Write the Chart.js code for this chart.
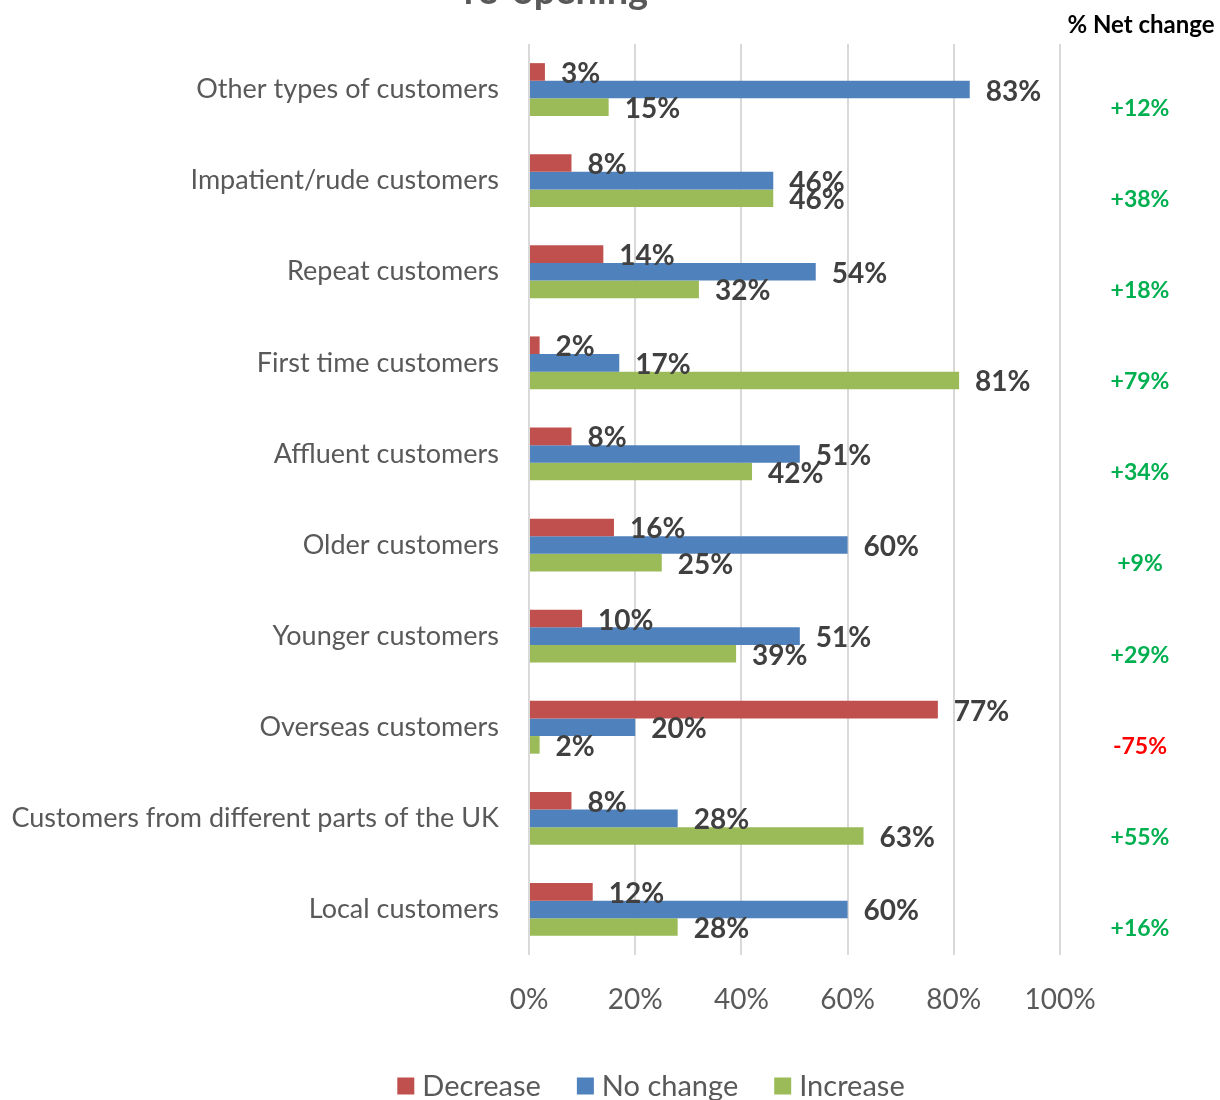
<!DOCTYPE html>
<html>
<head>
<meta charset="utf-8">
<script src="https://cdn.jsdelivr.net/npm/chart.js@4"></script>
<style>
  html, body { margin: 0; padding: 0; background: #fff; }
  #wrap { width: 1220px; height: 1100px; }
</style>
</head>
<body>
<div id="wrap"><canvas id="chart" width="1220" height="1100"></canvas></div>
<script>
const categories = [
  'Other types of customers',
  'Impatient/rude customers',
  'Repeat customers',
  'First time customers',
  'Affluent customers',
  'Older customers',
  'Younger customers',
  'Overseas customers',
  'Customers from different parts of the UK',
  'Local customers'
];
const decrease = [3, 8, 14, 2, 8, 16, 10, 77, 8, 12];
const noChange = [83, 46, 54, 17, 51, 60, 51, 20, 28, 60];
const increase = [15, 46, 32, 81, 42, 25, 39, 2, 63, 28];
const netChange = [12, 38, 18, 79, 34, 9, 29, -75, 55, 16];
const xTicks = [0, 20, 40, 60, 80, 100];

const FONT = 'Lato, "Open Sans", sans-serif';

// value labels at the end of each bar
const barLabels = {
  id: 'barLabels',
  afterDatasetsDraw(chart) {
    const ctx = chart.ctx;
    ctx.save();
    ctx.font = 'bold 28px ' + FONT;
    ctx.fillStyle = '#404040';
    ctx.textAlign = 'left';
    ctx.textBaseline = 'middle';
    chart.data.datasets.forEach((ds, i) => {
      chart.getDatasetMeta(i).data.forEach((el, j) => {
        ctx.fillText(ds.data[j] + '%', el.x + 16, el.y + 2);
      });
    });
    ctx.restore();
  }
};

// net change column, cut-off title and the legend
const extras = {
  id: 'extras',
  afterDraw(chart) {
    const ctx = chart.ctx;
    const yScale = chart.scales.y;
    ctx.save();
    ctx.textAlign = 'center';
    ctx.textBaseline = 'alphabetic';
    ctx.font = 'bold 38px ' + FONT;
    ctx.fillStyle = '#595959';
    ctx.fillText('re-opening', 556, 4);

    ctx.font = 'bold 24px ' + FONT;
    ctx.fillStyle = '#000000';
    ctx.textBaseline = 'middle';
    ctx.fillText('% Net change', 1141, 25);

    ctx.font = 'bold 23px ' + FONT;
    netChange.forEach((v, i) => {
      const y = yScale.getPixelForValue(i) + 19;
      ctx.fillStyle = v < 0 ? '#ff0000' : '#00b050';
      ctx.fillText((v > 0 ? '+' : '') + v + '%', 1140, y);
    });

    // legend
    ctx.font = '29px ' + FONT;
    ctx.textAlign = 'left';
    const box = 17, gap = 8, between = 36;
    const items = chart.data.datasets.map(ds => ({
      label: ds.label, color: ds.backgroundColor,
      w: box + gap + ctx.measureText(ds.label).width
    }));
    const total = items.reduce((s, it) => s + it.w, 0) + between * (items.length - 1);
    let x = 651 - total / 2;
    const ly = 1086;
    items.forEach(it => {
      ctx.fillStyle = it.color;
      ctx.fillRect(x, ly - box / 2, box, box);
      ctx.fillStyle = '#595959';
      ctx.fillText(it.label, x + box + gap, ly + 1);
      x += it.w + between;
    });
    ctx.restore();
  }
};

new Chart(document.getElementById('chart'), {
  type: 'bar',
  data: {
    labels: categories,
    datasets: [
      { label: 'Decrease', data: decrease, backgroundColor: '#c0504d' },
      { label: 'No change', data: noChange, backgroundColor: '#4f81bd' },
      { label: 'Increase', data: increase, backgroundColor: '#9bbb59' }
    ]
  },
  options: {
    indexAxis: 'y',
    responsive: false,
    animation: false,
    categoryPercentage: 0.58,
    barPercentage: 1,
    layout: { padding: { top: 44, right: 160, left: 0, bottom: 45 } },
    plugins: {
      legend: { display: false },
      tooltip: { enabled: false }
    },
    scales: {
      x: {
        min: 0,
        max: 100,
        afterBuildTicks(scale) {
          scale.ticks = xTicks.map(v => ({ value: v }));
        },
        ticks: {
          callback: v => v + '%',
          font: { family: FONT, size: 28 },
          color: '#595959',
          padding: 28
        },
        grid: { color: '#d9d9d9', lineWidth: 2, drawTicks: false },
        border: { display: false },
        afterFit(scale) { scale.height = 100; }
      },
      y: {
        ticks: {
          font: { family: FONT, size: 27 },
          color: '#595959',
          padding: 22
        },
        grid: { display: false },
        border: { display: false },
        afterFit(scale) { scale.width = 529; }
      }
    }
  },
  plugins: [barLabels, extras]
});
</script>
</body>
</html>
